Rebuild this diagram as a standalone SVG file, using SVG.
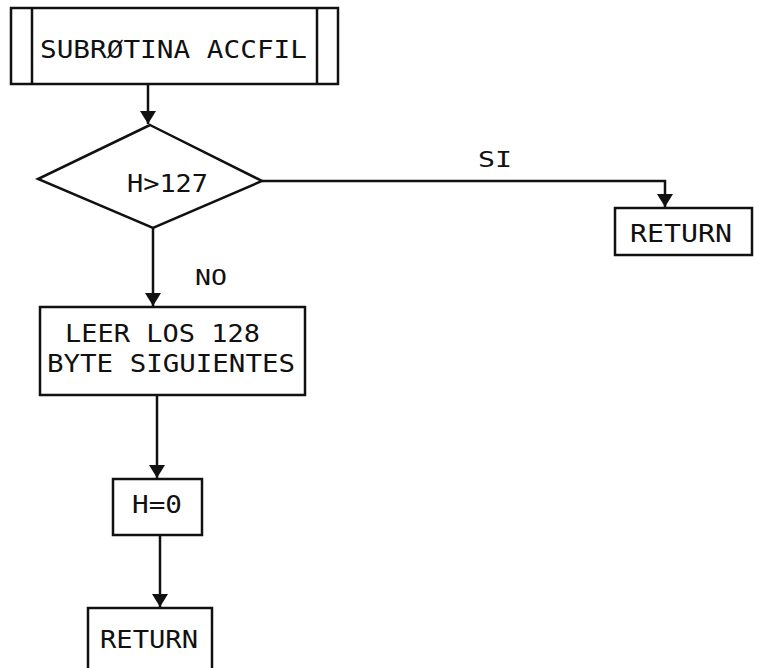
<svg xmlns="http://www.w3.org/2000/svg" width="759" height="668" viewBox="0 0 759 668">
<style>
.s{fill:none;stroke:#111;stroke-width:2.5}
.b{fill:#fff;stroke:#111;stroke-width:2.5}
.t{font-family:"DejaVu Sans Mono","Liberation Mono",monospace;font-size:25px;fill:#111}
.l{font-family:"DejaVu Sans Mono","Liberation Mono",monospace;font-size:21px;fill:#111}
</style>
<defs>
<marker id="ah" markerWidth="13" markerHeight="16" refX="13" refY="8" orient="auto" markerUnits="userSpaceOnUse">
<path d="M0,0 L13,8 L0,16 Z" fill="#111"/>
</marker>
</defs>
<rect width="759" height="668" fill="#fff"/>
<g id="connectors">
<path class="s" d="M148,84 V124" marker-end="url(#ah)"/>
<path class="s" d="M262,181 H665 V207" marker-end="url(#ah)"/>
<path class="s" d="M153,228 V306" marker-end="url(#ah)"/>
<path class="s" d="M157,395 V478" marker-end="url(#ah)"/>
<path class="s" d="M160,535 V607" marker-end="url(#ah)"/>
<text class="l" x="478" y="167" textLength="34" lengthAdjust="spacingAndGlyphs">SI</text>
<text class="l" x="195" y="285" textLength="32" lengthAdjust="spacingAndGlyphs">NO</text>
</g>
<g id="start">
<rect class="b" x="11" y="8" width="327" height="76"/>
<path class="s" d="M32,8 V84 M317,8 V84"/>
<text class="t" x="40" y="58" textLength="267" lengthAdjust="spacingAndGlyphs">SUBRØTINA ACCFIL</text>
</g>
<g id="decision">
<path class="b" d="M150,125 L262,181 L153,228 L38,179 Z"/>
<text class="t" x="127" y="192" textLength="81" lengthAdjust="spacingAndGlyphs">H&gt;127</text>
</g>
<g id="return1">
<rect class="b" x="615" y="208" width="137" height="47"/>
<text class="t" x="630" y="242" textLength="102" lengthAdjust="spacingAndGlyphs">RETURN</text>
</g>
<g id="read">
<rect class="b" x="40" y="307" width="265" height="88"/>
<text class="t" x="65" y="342" textLength="195" lengthAdjust="spacingAndGlyphs">LEER LOS 128</text>
<text class="t" x="47" y="372" textLength="248" lengthAdjust="spacingAndGlyphs">BYTE SIGUIENTES</text>
</g>
<g id="assign">
<rect class="b" x="113" y="479" width="89" height="56"/>
<text class="t" x="132" y="513" textLength="50" lengthAdjust="spacingAndGlyphs">H=0</text>
</g>
<g id="return2">
<rect class="b" x="88" y="608" width="124" height="64"/>
<text class="t" x="100" y="648" textLength="98" lengthAdjust="spacingAndGlyphs">RETURN</text>
</g>
</svg>
